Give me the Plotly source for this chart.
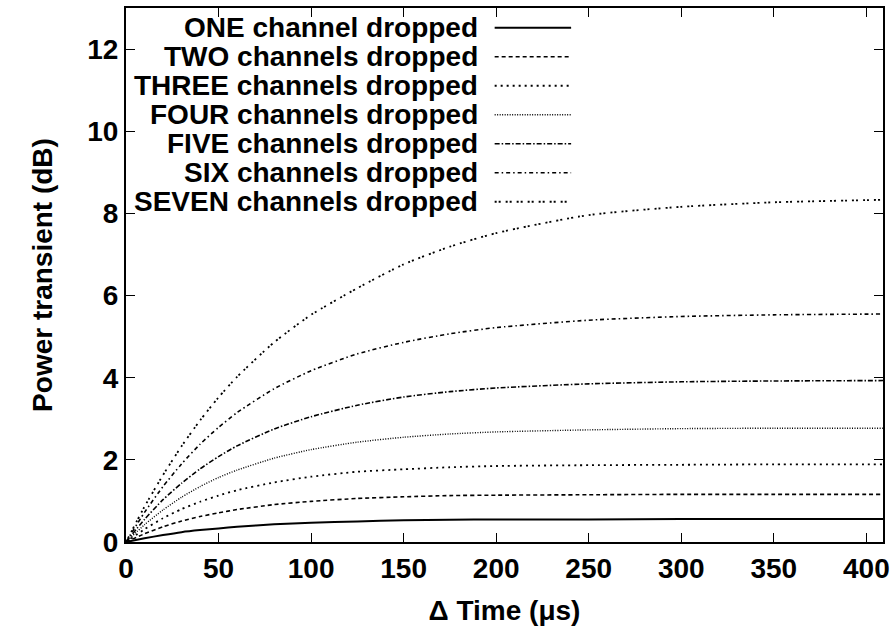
import plotly.graph_objects as go

# Time after the channel drop (microseconds)
time_us = [0, 10, 20, 30, 40, 50, 60, 80, 100, 125, 150, 175, 200, 250, 300, 350, 409]

# Power transient (dB) on the surviving channel
one_dropped = [0, 0.09, 0.17, 0.24, 0.29, 0.33, 0.37, 0.43, 0.47, 0.50, 0.53, 0.54, 0.55, 0.55, 0.56, 0.56, 0.56]
two_dropped = [0, 0.20, 0.37, 0.51, 0.62, 0.71, 0.79, 0.91, 0.99, 1.06, 1.10, 1.13, 1.14, 1.15, 1.16, 1.16, 1.16]
three_dropped = [0, 0.31, 0.58, 0.80, 0.98, 1.13, 1.26, 1.45, 1.59, 1.71, 1.77, 1.82, 1.85, 1.87, 1.88, 1.89, 1.89]
four_dropped = [0, 0.42, 0.78, 1.09, 1.35, 1.57, 1.75, 2.04, 2.25, 2.43, 2.55, 2.63, 2.68, 2.73, 2.76, 2.77, 2.77]
five_dropped = [0, 0.55, 1.03, 1.43, 1.78, 2.08, 2.34, 2.75, 3.05, 3.33, 3.53, 3.66, 3.75, 3.85, 3.90, 3.92, 3.93]
six_dropped = [0, 0.72, 1.35, 1.90, 2.38, 2.79, 3.15, 3.73, 4.17, 4.58, 4.86, 5.07, 5.22, 5.40, 5.49, 5.53, 5.55]
seven_dropped = [0, 0.86, 1.63, 2.33, 2.96, 3.52, 4.02, 4.86, 5.53, 6.18, 6.76, 7.19, 7.52, 7.96, 8.16, 8.27, 8.33]

series_names = ["ONE channel dropped", "TWO channels dropped", "THREE channels dropped",
                "FOUR channels dropped", "FIVE channels dropped", "SIX channels dropped",
                "SEVEN channels dropped"]
series_values = [one_dropped, two_dropped, three_dropped, four_dropped,
                 five_dropped, six_dropped, seven_dropped]

x_ticks = [0, 50, 100, 150, 200, 250, 300, 350, 400]
y_ticks = [0, 2, 4, 6, 8, 10, 12]

dashes = ["solid", "4px,3px", "2px,4px", "1px,1.5px",
          "5px,2px,1.5px,2px", "4px,3px,1.5px,3px", "2px,2px,2px,5px"]
widths = [2, 1.6, 1.8, 1.4, 1.6, 1.6, 1.8]

FONT = "Liberation Sans, Arial, sans-serif"
FS = 28

fig = go.Figure()
for name, vals, dash, w in zip(series_names, series_values, dashes, widths):
    fig.add_trace(go.Scatter(
        x=time_us, y=vals, mode="lines", name=name,
        line=dict(color="black", width=w, dash=dash, shape="spline", smoothing=0.6),
        showlegend=False,
    ))

# gnuplot-style key: right-aligned label followed by a line sample
key_top = 0.963
key_step = 0.0543
for i, (name, dash, w) in enumerate(zip(series_names, dashes, widths)):
    yk = key_top - i * key_step
    fig.add_annotation(
        x=0.468, y=yk, xref="paper", yref="paper", text="<b>%s</b>" % name,
        showarrow=False, xanchor="right", yanchor="middle",
        font=dict(family=FONT, size=FS, color="black"),
    )
    fig.add_shape(
        type="line", xref="paper", yref="paper",
        x0=0.487, x1=0.588, y0=yk, y1=yk,
        line=dict(color="black", width=w, dash=dash),
    )

axis_common = dict(
    showgrid=False, zeroline=False, showline=True, linecolor="black", linewidth=2,
    mirror="ticks", ticks="inside", ticklen=9, tickwidth=1.2, tickcolor="black",
    tickfont=dict(family=FONT, size=FS, color="black"),
)

fig.update_xaxes(
    range=[0, 409], tickvals=x_ticks, ticktext=["<b>%d</b>" % v for v in x_ticks],
    title=dict(text="<b>Δ Time (μs)</b>", font=dict(family=FONT, size=FS, color="black"),
               standoff=18),
    **axis_common,
)
fig.update_yaxes(
    range=[0, 13], tickvals=y_ticks, ticktext=["<b>%d</b>" % v for v in y_ticks],
    title=dict(text="<b>Power transient (dB)</b>", font=dict(family=FONT, size=FS, color="black"),
               standoff=26),
    **axis_common,
)

fig.update_layout(
    width=896, height=632,
    margin=dict(l=126, r=10, t=6, b=90),
    paper_bgcolor="white", plot_bgcolor="white",
)

fig.write_html("out.html")
